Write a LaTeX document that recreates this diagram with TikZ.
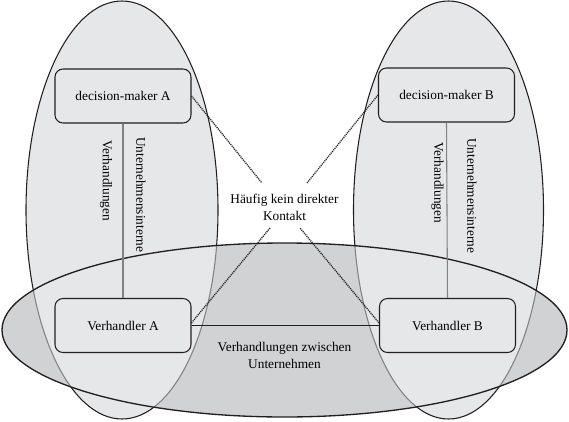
\documentclass[tikz,border=0pt]{standalone}
\usepackage{fontspec}
\setmainfont{Liberation Serif}
\definecolor{lightfill}{RGB}{230,231,232}
\definecolor{darkfill}{RGB}{209,210,212}
\definecolor{ink}{RGB}{35,31,32}
\definecolor{softink}{RGB}{130,130,132}
\begin{document}
\begin{tikzpicture}[x=0.75pt,y=-0.75pt,
  box/.style={draw=ink, line width=0.8pt, rounded corners=6pt, fill=lightfill,
    minimum width=102pt, minimum height=40.5pt, inner sep=0pt,
    font=\fontsize{10}{12}\selectfont},
  dotline/.style={ink, line width=1pt, dash pattern=on 0.8pt off 0.7pt},
  vlabel/.style={rotate=-90, anchor=west, inner sep=0pt, font=\fontsize{10}{12}\selectfont},
  lbl/.style={align=center, inner sep=0pt, font=\fontsize{10}{12.75}\selectfont},
  inner/.style={softink, line width=0.8pt}]
\useasboundingbox (0,0) rectangle (569,422);
% fills
\path[fill=darkfill] (284.5,330) ellipse [x radius=282.5, y radius=87];
\path[fill=lightfill] (122,210) ellipse [x radius=96, y radius=209];
\path[fill=lightfill] (448.5,210) ellipse [x radius=95, y radius=209];
% outlines of vertical ellipses outside the horizontal one
\begin{scope}[even odd rule]
  \clip (-10,-10) rectangle (580,432) (284.5,330) ellipse [x radius=282.5, y radius=87];
  \draw[ink, line width=0.8pt] (122,210) ellipse [x radius=96, y radius=209];
  \draw[ink, line width=0.8pt] (448.5,210) ellipse [x radius=95, y radius=209];
\end{scope}
% outlines inside the horizontal one
\begin{scope}
  \clip (284.5,330) ellipse [x radius=282.5, y radius=87];
  \draw[softink, line width=0.8pt] (122,210) ellipse [x radius=96, y radius=209];
  \draw[softink, line width=0.8pt] (448.5,210) ellipse [x radius=95, y radius=209];
\end{scope}
\draw[ink, line width=1pt] (284.5,330) ellipse [x radius=282.5, y radius=87];
% boxes
\node[box] (dmA) at (123,96) {decision-maker A};
\node[box] (dmB) at (446.5,95) {decision-maker B};
\node[box] (vA) at (123,325.5) {Verhandler A};
\node[box] (vB) at (447.5,325.5) {Verhandler B};
% labels
\node[lbl] (kontakt) at (284.5,207) {Häufig kein direkter\\Kontakt};
\node[lbl] (zwischen) at (284.5,355) {Verhandlungen zwischen\\Unternehmen};
\node[vlabel] (verhA) at (106,140) {Verhandlungen};
\node[vlabel] (interA) at (141,137) {Unternehmensinterne};
\node[vlabel] (verhB) at (437.5,142) {Verhandlungen};
\node[vlabel] (interB) at (472,138) {Unternehmensinterne};
% connectors
\draw[inner] (dmA.south) -- (vA.north);
\draw[inner] (dmB.south) -- (vB.north);
\draw[ink, line width=0.9pt] (vA.east) -- (vB.west);
\coordinate (k1) at (262,183);
\coordinate (k2) at (307,183);
\coordinate (k3) at (270,228);
\coordinate (k4) at (300,228);
\draw[dotline] (dmA.east) -- (k1);
\draw[dotline] (dmB.west) -- (k2);
\draw[dotline] ([yshift=2pt]vA.east) -- (k3);
\draw[dotline] ([yshift=2pt]vB.west) -- (k4);
\end{tikzpicture}
\end{document}
